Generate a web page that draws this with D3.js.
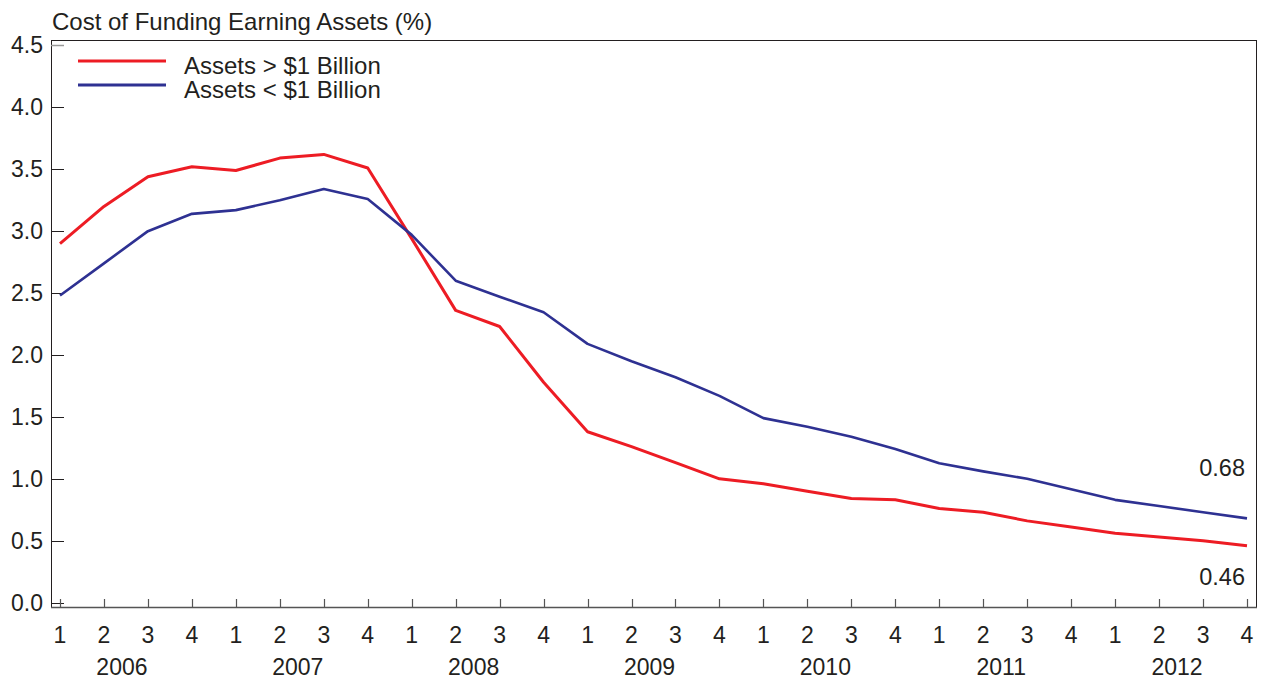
<!DOCTYPE html>
<html>
<head>
<meta charset="utf-8">
<script src="https://cdn.jsdelivr.net/npm/d3@7"></script>
<style>
  body { margin: 0; background: #fff; }
  svg text { font-family: "Liberation Sans", Arial, Helvetica, sans-serif; fill: #231f20; }
</style>
</head>
<body>
<div id="chart"></div>
<script>
// quarters 2006Q1 .. 2012Q4
const years = ["2006", "2007", "2008", "2009", "2010", "2011", "2012"];
const quarterLabels = ["1", "2", "3", "4"];
const yTicks = [0.0, 0.5, 1.0, 1.5, 2.0, 2.5, 3.0, 3.5, 4.0, 4.5];

const largeBanks = [2.90, 3.20, 3.44, 3.52, 3.49, 3.59, 3.62, 3.51,
                    2.94, 2.36, 2.23, 1.78, 1.38, 1.26, 1.13, 1.00,
                    0.96, 0.90, 0.84, 0.83, 0.76, 0.73, 0.66, 0.61,
                    0.56, 0.53, 0.50, 0.46];
const smallBanks = [2.48, 2.74, 3.00, 3.14, 3.17, 3.25, 3.34, 3.26,
                    2.97, 2.60, 2.47, 2.345, 2.09, 1.95, 1.82, 1.67,
                    1.49, 1.42, 1.34, 1.24, 1.125, 1.06, 1.00, 0.915,
                    0.83, 0.78, 0.73, 0.68];

const quarters = [];
years.forEach(y => quarterLabels.forEach(q => quarters.push(y + "Q" + q)));

const width = 1264, height = 679;
const plot = { left: 51, right: 1256, top: 40, bottom: 607 };

const svg = d3.select("#chart")
    .append("svg")
    .attr("width", width)
    .attr("height", height);

const x = d3.scalePoint()
    .domain(quarters)
    .range([60, 1247]);

const y = d3.scaleLinear()
    .domain([-0.0355, 4.544])
    .range([plot.bottom, plot.top]);

const ink = "#231f20";

// title
svg.append("text")
    .attr("x", 52)
    .attr("y", 30)
    .style("font-size", "24px")
    .text("Cost of Funding Earning Assets (%)");

// frame
svg.append("rect")
    .attr("x", plot.left + 0.5)
    .attr("y", plot.top + 0.5)
    .attr("width", plot.right - plot.left)
    .attr("height", plot.bottom - plot.top)
    .attr("fill", "none")
    .attr("stroke", ink)
    .attr("stroke-width", 1);

svg.append("line")
    .attr("x1", plot.left).attr("x2", plot.right + 1)
    .attr("y1", plot.bottom + 0.5).attr("y2", plot.bottom + 0.5)
    .attr("stroke", "#555")
    .attr("stroke-width", 1.5);

// y axis ticks (inside) and labels
const yAxis = svg.append("g").attr("class", "y-axis");
yAxis.selectAll("line")
    .data(yTicks)
    .enter()
    .append("line")
    .attr("x1", plot.left)
    .attr("x2", plot.left + 13)
    .attr("y1", d => Math.round(y(d)) + 0.5)
    .attr("y2", d => Math.round(y(d)) + 0.5)
    .attr("stroke", d => d === 4.5 ? "#999" : ink)
    .attr("stroke-width", d => d === 4.5 ? 1.5 : 1);

yAxis.selectAll("text")
    .data(yTicks)
    .enter()
    .append("text")
    .attr("x", 43)
    .attr("y", d => y(d) + 8)
    .attr("text-anchor", "end")
    .style("font-size", "23px")
    .text(d => d.toFixed(1));

// x axis ticks (inside, upward) and labels
const xAxis = svg.append("g").attr("class", "x-axis");
xAxis.selectAll("line")
    .data(quarters)
    .enter()
    .append("line")
    .attr("x1", d => Math.round(x(d)) + 0.5)
    .attr("x2", d => Math.round(x(d)) + 0.5)
    .attr("y1", plot.bottom)
    .attr("y2", plot.bottom - 8)
    .attr("stroke", "#555")
    .attr("stroke-width", 1.2);

xAxis.selectAll("text.q")
    .data(quarters)
    .enter()
    .append("text")
    .attr("class", "q")
    .attr("x", d => x(d))
    .attr("y", 643)
    .attr("text-anchor", "middle")
    .style("font-size", "23px")
    .text(d => d.slice(-1));

xAxis.selectAll("text.yr")
    .data(years)
    .enter()
    .append("text")
    .attr("class", "yr")
    .attr("x", d => (x(d + "Q2") + x(d + "Q3")) / 2 - 4)
    .attr("y", 675)
    .attr("text-anchor", "middle")
    .style("font-size", "23px")
    .text(d => d);

// lines
const line = d3.line()
    .x((d, i) => x(quarters[i]))
    .y(d => y(d));

const series = [
    { name: "Assets > $1 Billion", values: largeBanks, color: "#ed1c24", w: 3 },
    { name: "Assets < $1 Billion", values: smallBanks, color: "#2e3192", w: 2.6 }
];

svg.selectAll(".series")
    .data(series)
    .enter()
    .append("path")
    .attr("class", "series")
    .attr("d", d => line(d.values))
    .attr("fill", "none")
    .attr("stroke", d => d.color)
    .attr("stroke-width", d => d.w)
    .attr("stroke-linejoin", "round");

// legend
const legend = svg.append("g").attr("class", "legend");
series.forEach((s, i) => {
    const ly = 61 + i * 24;
    legend.append("line")
        .attr("x1", 78).attr("x2", 166)
        .attr("y1", ly).attr("y2", ly)
        .attr("stroke", s.color)
        .attr("stroke-width", 3);
    legend.append("text")
        .attr("x", 184)
        .attr("y", ly + 13)
        .style("font-size", "24px")
        .text(s.name);
});

// end value labels
svg.append("text")
    .attr("x", 1245)
    .attr("y", 476)
    .attr("text-anchor", "end")
    .style("font-size", "23.5px")
    .text(smallBanks[smallBanks.length - 1].toFixed(2));

svg.append("text")
    .attr("x", 1245)
    .attr("y", 585)
    .attr("text-anchor", "end")
    .style("font-size", "23.5px")
    .text(largeBanks[largeBanks.length - 1].toFixed(2));
</script>
</body>
</html>
